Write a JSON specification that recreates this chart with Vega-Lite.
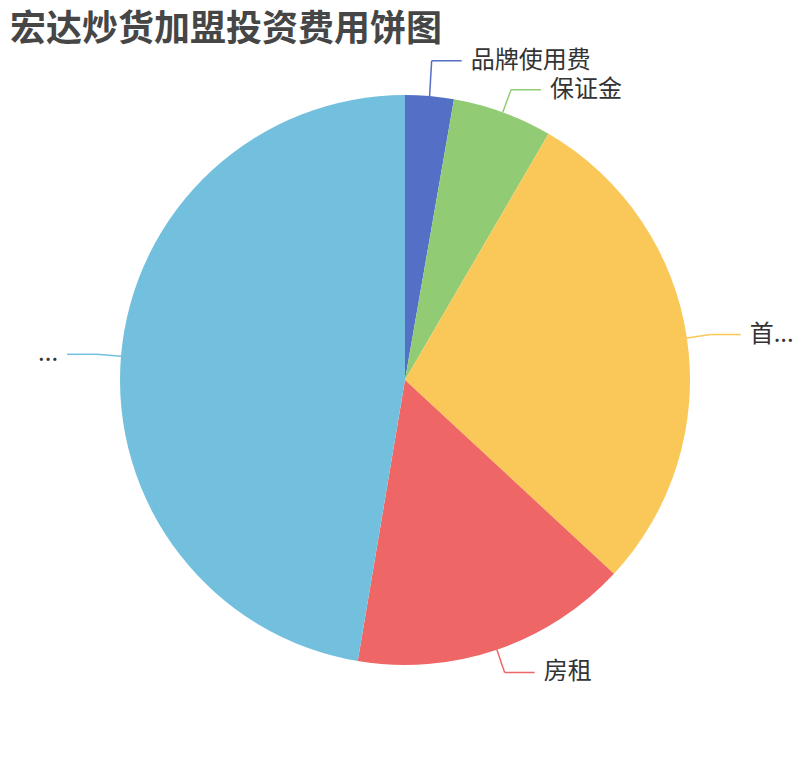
{
  "$schema": "https://vega.github.io/schema/vega-lite/v6.json",
  "width": 810,
  "height": 680,
  "autosize": {"type": "none"},
  "padding": {"top": 40, "bottom": 40, "left": 0, "right": 0},
  "background": "white",
  "config": {
    "view": {"stroke": null},
    "font": "Noto Sans CJK SC"
  },
  "title": {
    "text": "宏达炒货加盟投资费用饼图",
    "anchor": "start",
    "dx": 10,
    "dy": 13,
    "fontSize": 36,
    "fontWeight": "bold",
    "font": "Noto Sans CJK SC",
    "color": "#464646"
  },
  "data": {
    "values": [
      {"name": "品牌使用费", "value": 2.75, "order": 1},
      {"name": "保证金", "value": 5.65, "order": 2},
      {"name": "首...", "value": 28.5, "order": 3},
      {"name": "房租", "value": 15.75, "order": 4},
      {"name": "...", "value": 47.35, "order": 5}
    ]
  },
  "layer": [
    {
      "mark": {"type": "arc", "radius": 285},
      "encoding": {
        "theta": {"field": "value", "type": "quantitative", "stack": true},
        "order": {"field": "order", "type": "quantitative"},
        "color": {
          "field": "name",
          "type": "nominal",
          "scale": {
            "domain": ["品牌使用费", "保证金", "首...", "房租", "..."],
            "range": ["#5470c6", "#91cc75", "#fac858", "#ee6666", "#73c0de"]
          },
          "legend": null
        }
      }
    },
    {
      "transform": [
        {"window": [{"op": "sum", "field": "value", "as": "cum"}], "sort": [{"field": "order"}], "frame": [null, 0]},
        {"joinaggregate": [{"op": "sum", "field": "value", "as": "total"}]},
        {"calculate": "2 * PI * (datum.cum - datum.value / 2) / datum.total", "as": "mid"},
        {"calculate": "sin(datum.mid) >= 0 ? 'R' : 'L'", "as": "side"},
        {"calculate": "285 * sin(datum.mid)", "as": "x0"},
        {"calculate": "285 * cos(datum.mid)", "as": "y0"},
        {"calculate": "309 * sin(datum.mid)", "as": "x1"},
        {"calculate": "309 * cos(datum.mid)", "as": "y1"},
        {"window": [{"op": "lead", "field": "y1", "as": "nextY"}], "groupby": ["side"], "sort": [{"field": "order"}]},
        {"calculate": "datum.nextY == null ? datum.y1 : max(datum.y1, datum.nextY + 29)", "as": "yl"},
        {"calculate": "datum.x1 + (datum.side == 'R' ? 30 : -30)", "as": "x2"},
        {"calculate": "datum.x2 + (datum.side == 'R' ? 9 : -9)", "as": "xt"}
      ],
      "encoding": {
        "y": {"field": "yl", "type": "quantitative", "scale": {"domain": [-340, 340], "nice": false, "zero": false}, "axis": null},
        "color": {
          "field": "name",
          "type": "nominal",
          "scale": {
            "domain": ["品牌使用费", "保证金", "首...", "房租", "..."],
            "range": ["#5470c6", "#91cc75", "#fac858", "#ee6666", "#73c0de"]
          },
          "legend": null
        }
      },
      "layer": [
        {
          "mark": {"type": "rule", "strokeWidth": 1.5},
          "encoding": {
            "x": {"field": "x0", "type": "quantitative", "scale": {"domain": [-405, 405], "nice": false, "zero": false}, "axis": null},
            "x2": {"field": "x1"},
            "y": {"field": "y0", "type": "quantitative", "scale": {"domain": [-340, 340], "nice": false, "zero": false}, "axis": null},
            "y2": {"field": "yl"}
          }
        },
        {
          "mark": {"type": "rule", "strokeWidth": 1.5},
          "encoding": {
            "x": {"field": "x1", "type": "quantitative", "axis": null},
            "x2": {"field": "x2"}
          }
        },
        {
          "transform": [{"filter": "datum.side == 'R'"}],
          "mark": {"type": "text", "align": "left", "baseline": "middle", "fontSize": 24, "font": "Noto Sans CJK SC"},
          "encoding": {
            "x": {"field": "xt", "type": "quantitative", "axis": null},
            "text": {"field": "name"},
            "color": {"value": "#333333"}
          }
        },
        {
          "transform": [{"filter": "datum.side == 'L'"}],
          "mark": {"type": "text", "align": "right", "baseline": "middle", "fontSize": 24, "font": "Noto Sans CJK SC"},
          "encoding": {
            "x": {"field": "xt", "type": "quantitative", "axis": null},
            "text": {"field": "name"},
            "color": {"value": "#333333"}
          }
        }
      ]
    }
  ]
}
